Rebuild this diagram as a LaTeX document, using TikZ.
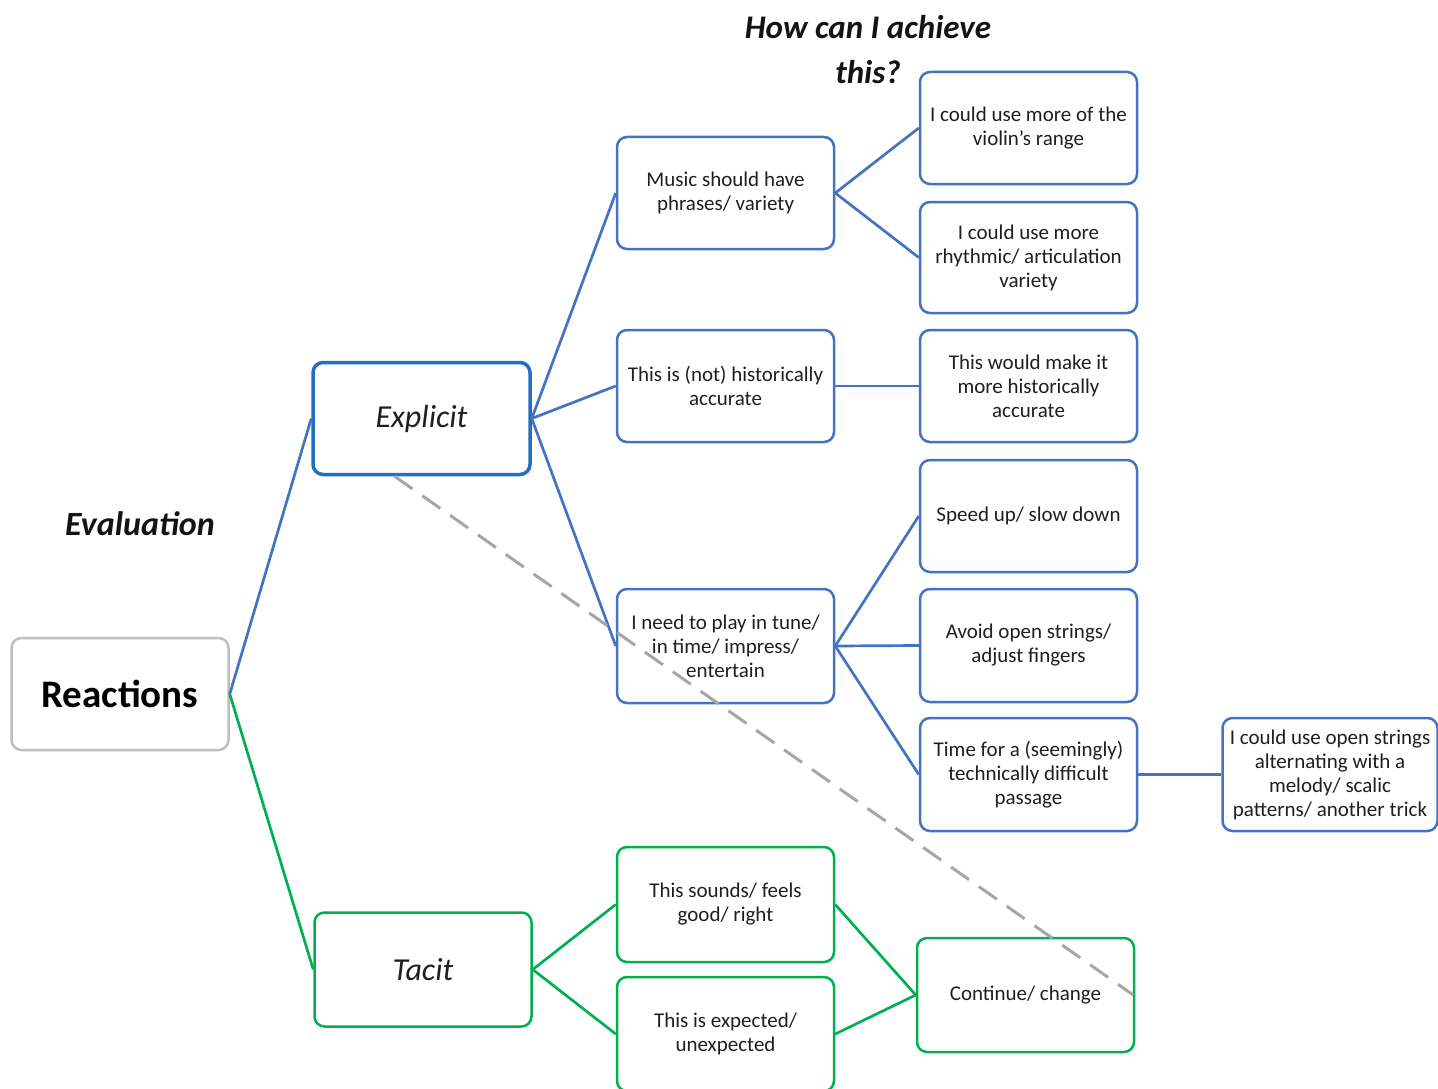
\documentclass[tikz,border=0pt]{standalone}
\usepackage{fontspec}
\setmainfont{Carlito}
\definecolor{bblue}{HTML}{4472C4}
\definecolor{eblue}{HTML}{1F6FC4}
\definecolor{ggreen}{HTML}{00B050}
\definecolor{rgray}{HTML}{BFBFBF}
\definecolor{dgray}{HTML}{A6A6A6}
\tikzset{
  x=1pt, y=-1pt,
  box/.style={draw=bblue, line width=2.5pt, rounded corners=10pt, fill=white,
    minimum width=217pt, minimum height=112pt, align=center, inner sep=2pt,
    font=\fontsize{21}{24}\selectfont, text=black!88},
  gbox/.style={box, draw=ggreen},
  bline/.style={draw=bblue, line width=2.7pt},
  gline/.style={draw=ggreen, line width=2.7pt},
  heading/.style={font=\fontsize{33}{45}\selectfont\bfseries\itshape, align=center, text=black!92},
}
\begin{document}
\begin{tikzpicture}
\useasboundingbox (0,0) rectangle (1438,1089);
% nodes
\node[box, draw=rgray, font=\fontsize{39}{44}\selectfont\bfseries, text=black] (react) at (120,694) {Reactions};
\node[box, draw=eblue, line width=3.5pt, font=\fontsize{32}{36}\selectfont\itshape] (expl) at (421.5,418.5) {Explicit};
\node[gbox, font=\fontsize{32}{36}\selectfont\itshape, minimum height=114pt] (tacit) at (423,969.5) {Tacit};
\node[heading, font=\fontsize{34}{45}\selectfont\bfseries\itshape] (eval) at (140,524) {Evaluation};
\node[heading] (title) at (868,50) {How can I achieve\\this?};

\node[box] (music) at (725.5,193) {Music should have\\phrases/ variety};
\node[box] (hist) at (725.5,386) {This is (not) historically\\accurate};
\node[box, minimum height=114pt] (need) at (725.5,646) {I need to play in tune/\\in time/ impress/\\entertain};
\node[gbox, minimum height=115pt] (sounds) at (725.5,904.5) {This sounds/ feels\\good/ right};
\node[gbox, minimum height=114pt] (expect) at (725.5,1034) {This is expected/\\unexpected};

\node[box] (range) at (1028.5,128) {I could use more of the\\violin's range};
\node[box, minimum height=111pt] (rhythm) at (1028.5,257.5) {I could use more\\rhythmic/ articulation\\variety};
\node[box] (make) at (1028.5,386) {This would make it\\more historically\\accurate};
\node[box] (speed) at (1028.5,516) {Speed up/ slow down};
\node[box, minimum height=113pt] (avoid) at (1028.5,645.5) {Avoid open strings/\\adjust fingers};
\node[box, minimum height=113pt] (timefor) at (1028.5,774.5) {Time for a (seemingly)\\technically difficult\\passage};
\node[gbox, minimum height=114pt] (cont) at (1025.5,995) {Continue/ change};
\node[box, minimum height=113pt, minimum width=215pt] (trick) at (1330,774.5) {I could use open strings\\alternating with a\\melody/ scalic\\patterns/ another trick};

% connectors
\draw[bline] (react.east) -- (expl.west);
\draw[gline] (react.east) -- (tacit.west);
\draw[bline] (expl.east) -- (music.west);
\draw[bline] (expl.east) -- (hist.west);
\draw[bline] (expl.east) -- (need.west);
\draw[bline] (music.east) -- (range.west);
\draw[bline] (music.east) -- (rhythm.west);
\draw[bline] (hist.east) -- (make.west);
\draw[bline] (need.east) -- (speed.west);
\draw[bline] (need.east) -- (avoid.west);
\draw[bline] (need.east) -- (timefor.west);
\draw[bline] (timefor.east) -- (trick.west);
\draw[gline] (tacit.east) -- (sounds.west);
\draw[gline] (tacit.east) -- (expect.west);
\draw[gline] (sounds.east) -- (cont.west);
\draw[gline] (expect.east) -- (cont.west);
\draw[draw=dgray, line width=3pt, dash pattern=on 22pt off 12pt] ([xshift=-27pt]expl.south) -- ([xshift=-2pt]cont.east);
\end{tikzpicture}
\end{document}
